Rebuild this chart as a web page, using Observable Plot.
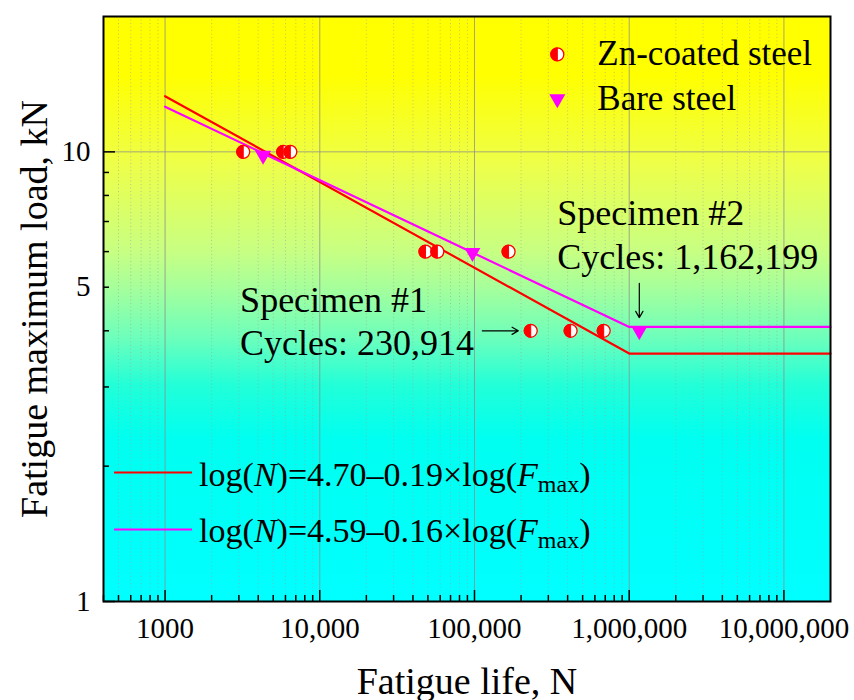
<!DOCTYPE html>
<html>
<head>
<meta charset="utf-8">
<style>
  html, body { margin: 0; padding: 0; background: #ffffff; }
  #chart svg { display: block; }
</style>
<script src="https://cdn.jsdelivr.net/npm/d3@7"></script>
<script src="https://cdn.jsdelivr.net/npm/@observablehq/plot@0.6"></script>
</head>
<body>
<div id="chart"></div>
<script>
// ---------- data ----------
const xTicks = [1000, 10000, 100000, 1000000, 10000000];
const xTickLabels = ["1000", "10,000", "100,000", "1,000,000", "10,000,000"];
const yTicks = [1, 5, 10];
const yTickLabels = ["1", "5", "10"];
const xTitle = "Fatigue life, N";
const yTitle = "Fatigue maximum load, kN";
const seriesNames = ["Zn-coated steel", "Bare steel"];

const znCycles = [3200, 5800, 6450, 48200, 57500, 166000, 230914, 418000, 684000];
const znLoad   = [10, 10, 10, 6, 6, 6, 4, 4, 4];
const bareCycles = [4300, 97000, 1162199];
const bareLoad   = [9.7, 5.9, 3.95];

const fitCycles   = [1000, 1000000, 20000000];
const znFitLoad   = [13.3, 3.56, 3.56];
const bareFitLoad = [12.6, 4.08, 4.08];
const fitLabels = ["log(N)=4.70–0.19×log(Fmax)", "log(N)=4.59–0.16×log(Fmax)"];

const noteTexts = ["Specimen #1\nCycles: 230,914", "Specimen #2\nCycles: 1,162,199"];

// ---------- layout (anchors in data units) ----------
const noteAnchors = [{N: 3055, F: 3.53}, {N: 343000, F: 5.50}];
const arrows = [
  {x1: 112300, y1: 4.0, x2: 192000, y2: 4.0},
  {x1: 1162199, y1: 5.10, x2: 1162199, y2: 4.28}
];
const legendMarkerN = 343000;
const legendMarkerF = [16.47, 12.95];
const legendTextN = 622000;
const legendTextF = [15.57, 12.36];
const fitLegendN = [468, 1495];
const fitLegendLineF = [1.936, 1.446];
const fitLegendTextN = 1660;
const fitLegendTextF = [1.811, 1.353];

const colors = {zn: "#ff0000", bare: "#ff00ff"};

const W = 854, H = 700;
const mL = 103, mR = 24, mT = 16, mB = 99;
const plotW = W - mL - mR, plotH = H - mT - mB;

// minor ticks (multiples 2..9 of each decade inside the domain)
const xDomain = [400, 20000000], yDomain = [1, 20];
const xMinor = [];
for (let p = 100; p <= 1e7; p *= 10) for (let k = 2; k <= 9; k++) {
  const v = k * p; if (v >= xDomain[0] && v < xDomain[1]) xMinor.push(v);
}
const yMinor = [2, 3, 4, 5, 6, 7, 8, 9];

const zn = znCycles.map((N, i) => ({N, F: znLoad[i]}));
const bare = bareCycles.map((N, i) => ({N, F: bareLoad[i]}));
const znFit = fitCycles.map((N, i) => ({N, F: znFitLoad[i]}));
const bareFit = fitCycles.map((N, i) => ({N, F: bareFitLoad[i]}));

// custom symbols
const halfLeft = {
  draw(ctx, size) {
    const r = Math.sqrt(size / Math.PI);
    ctx.moveTo(0, -r);
    ctx.arc(0, 0, r, -Math.PI / 2, Math.PI / 2, true);
    ctx.closePath();
  }
};
const triDown = {
  draw(ctx, size) {
    const r = Math.sqrt(size / Math.PI);
    const h = 1.75 * r;
    ctx.moveTo(-r, -h / 2);
    ctx.lineTo(r, -h / 2);
    ctx.lineTo(0, h / 2);
    ctx.closePath();
  }
};

const ns = "http://www.w3.org/2000/svg";
const bgDefs = () => {
  const defs = document.createElementNS(ns, "defs");
  const lg = document.createElementNS(ns, "linearGradient");
  lg.setAttribute("id", "bgGrad");
  lg.setAttribute("x1", "0"); lg.setAttribute("y1", "0");
  lg.setAttribute("x2", "0"); lg.setAttribute("y2", "1");
  [[0, "#ffff00"], [0.1, "#ffff00"], [0.25, "#eeff48"], [0.4, "#c8ff82"],
   [0.46, "#a8ff9a"], [0.55, "#6cffbc"], [0.63, "#22ffd8"], [0.72, "#00fff0"], [1, "#00ffff"]]
    .forEach(([o, c]) => {
      const s = document.createElementNS(ns, "stop");
      s.setAttribute("offset", o); s.setAttribute("stop-color", c);
      lg.appendChild(s);
    });
  defs.appendChild(lg);
  return defs;
};

const serif = "'Liberation Serif', 'Times New Roman', Times, serif";

const chart = Plot.plot({
  width: W, height: H,
  marginLeft: mL, marginRight: mR, marginTop: mT, marginBottom: mB,
  style: {fontFamily: serif, fontSize: "29px", color: "black", background: "white", overflow: "visible"},
  x: {type: "log", domain: xDomain},
  y: {type: "log", domain: yDomain},
  marks: [
    bgDefs,
    Plot.frame({fill: "url(#bgGrad)", stroke: "none"}),
    // grid
    Plot.ruleX(xMinor, {x: d => d, stroke: "#9a9a9a", strokeOpacity: 0.55, strokeDasharray: "1,2.5"}),
    Plot.ruleX(xTicks, {x: d => d, stroke: "#8c8c8c", strokeOpacity: 0.75, strokeWidth: 1}),
    Plot.ruleY([10], {y: d => d, stroke: "#8c8c8c", strokeOpacity: 0.75, strokeWidth: 1}),
    // inward ticks
    Plot.tickX(xTicks, {x: d => d, insetTop: plotH - 11, stroke: "black", strokeWidth: 1.5}),
    Plot.tickX(xMinor, {x: d => d, insetTop: plotH - 6, stroke: "black", strokeWidth: 1.5}),
    Plot.tickY([1, 10], {y: d => d, insetRight: plotW - 12, stroke: "black", strokeWidth: 1.5}),
    Plot.tickY(yMinor, {y: d => d, insetRight: plotW - 6, stroke: "black", strokeWidth: 1.5}),
    // axes labels
    Plot.axisX({ticks: xTicks, tickFormat: d => xTickLabels[xTicks.indexOf(d)], tickSize: 0, tickPadding: 16, fontSize: 29, label: null}),
    Plot.axisY({ticks: yTicks, tickFormat: d => yTickLabels[yTicks.indexOf(d)], tickSize: 0, tickPadding: 13, fontSize: 29, label: null}),
    Plot.text([xTitle], {text: d => d, frameAnchor: "bottom", textAnchor: "middle", dy: 92, lineAnchor: "bottom", fontSize: 38}),
    Plot.text([yTitle], {text: d => d, frameAnchor: "left", textAnchor: "middle", rotate: -90, dx: -57, lineAnchor: "bottom", fontSize: 38}),
    // fit lines
    Plot.line(znFit, {x: "N", y: "F", stroke: colors.zn, strokeWidth: 2.2}),
    Plot.line(bareFit, {x: "N", y: "F", stroke: colors.bare, strokeWidth: 2.2}),
    // data points
    Plot.dot(zn, {x: "N", y: "F", r: 6.5, fill: "white", stroke: colors.zn, strokeWidth: 1.3}),
    Plot.dot(zn, {x: "N", y: "F", r: 6.5, symbol: halfLeft, fill: colors.zn, stroke: colors.zn, strokeWidth: 1}),
    Plot.dot(bare, {x: "N", y: "F", r: 8, symbol: triDown, fill: colors.bare, stroke: "none"}),
    // annotations
    Plot.text(noteTexts, {x: (d, i) => noteAnchors[i].N, y: (d, i) => noteAnchors[i].F, text: d => d,
      textAnchor: "start", lineAnchor: "bottom", lineHeight: 1.2, fontSize: 36, fill: "black"}),
    Plot.arrow(arrows, {x1: "x1", y1: "y1", x2: "x2", y2: "y2", stroke: "black", strokeWidth: 1.2, headLength: 9}),
    // legend (top right)
    Plot.dot([0], {x: () => legendMarkerN, y: () => legendMarkerF[0], r: 6.5, fill: "white", stroke: colors.zn, strokeWidth: 1.3}),
    Plot.dot([0], {x: () => legendMarkerN, y: () => legendMarkerF[0], r: 6.5, symbol: halfLeft, fill: colors.zn, stroke: colors.zn, strokeWidth: 1}),
    Plot.dot([0], {x: () => legendMarkerN, y: () => legendMarkerF[1], r: 8, symbol: triDown, fill: colors.bare, stroke: "none"}),
    Plot.text(seriesNames, {x: () => legendTextN, y: (d, i) => legendTextF[i], text: d => d,
      textAnchor: "start", lineAnchor: "bottom", fontSize: 35, fill: "black"}),
    // legend (fit lines)
    Plot.link([0, 1], {x1: () => fitLegendN[0], x2: () => fitLegendN[1], y1: i => fitLegendLineF[i], y2: i => fitLegendLineF[i],
      stroke: i => [colors.zn, colors.bare][i], strokeWidth: 2.2}),
    Plot.text(fitLabels, {x: () => fitLegendTextN, y: (d, i) => fitLegendTextF[i], text: d => d,
      textAnchor: "start", lineAnchor: "bottom", fontSize: 34, fill: "black"}),
    // frame
    Plot.frame({stroke: "black", strokeWidth: 2, fill: "none"})
  ]
});

// italic N / F and subscript "max" in the fit legend
chart.querySelectorAll("text").forEach(el => {
  const s = el.textContent;
  const m = s.match(/^log\(N\)=(.+)×log\(Fmax\)$/);
  if (!m || el.children.length) return;
  el.textContent = "";
  const add = (t, attrs = {}) => {
    const ts = document.createElementNS(ns, "tspan");
    for (const k in attrs) ts.setAttribute(k, attrs[k]);
    ts.textContent = t;
    el.appendChild(ts);
  };
  add("log(");
  add("N", {"font-style": "italic"});
  add(")=" + m[1] + "×log(");
  add("F", {"font-style": "italic"});
  add("max", {"font-size": "24px", dy: "6"});
  add(")", {dy: "-6"});
});

document.getElementById("chart").appendChild(chart);
</script>
</body>
</html>
